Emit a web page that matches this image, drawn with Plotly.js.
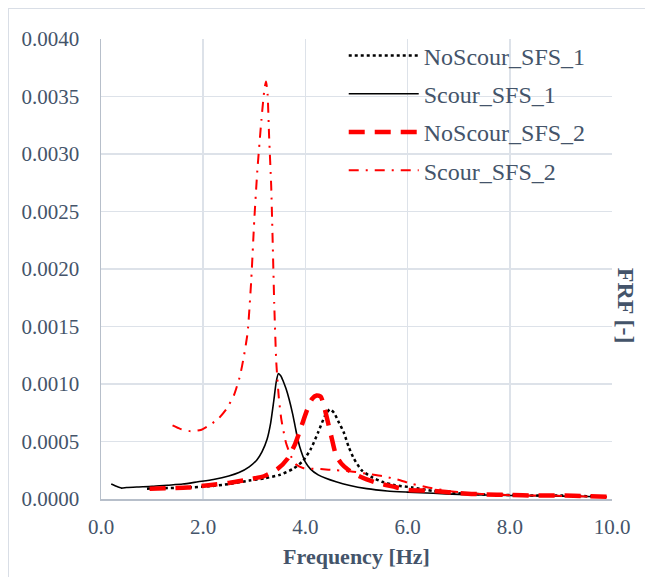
<!DOCTYPE html>
<html>
<head>
<meta charset="utf-8">
<script src="https://cdn.plot.ly/plotly-3.0.1.min.js"></script>
<style>
  html, body { margin: 0; padding: 0; background: #fff; overflow: hidden; }
  #frame { position: absolute; left: 8px; top: 8px; width: 700px; height: 700px; border: 1.5px solid #d9dee6; box-sizing: border-box; }
  #chart { position: absolute; left: 0; top: 0; width: 645px; height: 577px; }
</style>
</head>
<body>
<div id="frame"></div>
<div id="chart"></div>
<script>
// Series names
const seriesNames = ["NoScour_SFS_1", "Scour_SFS_1", "NoScour_SFS_2", "Scour_SFS_2"];

// NoScour_SFS_1 (black dotted)
const noScour1X = [0.9, 1.3, 1.7, 2.1, 2.5, 2.9, 3.2, 3.5, 3.75, 3.95, 4.1, 4.25, 4.38, 4.48, 4.56, 4.65, 4.75, 4.85, 4.95, 5.1, 5.3, 5.5, 5.75, 6.1, 6.5, 7.0, 7.5, 8.0, 8.5, 9.0, 9.5, 9.9];
const noScour1Y = [0.00009, 0.000095, 0.0001, 0.00011, 0.00013, 0.00016, 0.00018, 0.00021, 0.00026, 0.00033, 0.00043, 0.00058, 0.00072, 0.00078, 0.00075, 0.00067, 0.00058, 0.00045, 0.00035, 0.00025, 0.00019, 0.00015, 0.00012, 0.0001, 0.00007, 0.00005, 0.00004, 0.000035, 0.00003, 0.00003, 0.000025, 0.00002];

// Scour_SFS_1 (black solid)
const scour1X = [0.2, 0.3, 0.4, 0.5, 0.7, 1.0, 1.3, 1.6, 1.9, 2.2, 2.5, 2.7, 2.9, 3.05, 3.15, 3.25, 3.32, 3.38, 3.43, 3.47, 3.52, 3.57, 3.62, 3.68, 3.75, 3.8, 3.85, 3.92, 4.0, 4.1, 4.25, 4.4, 4.6, 4.85, 5.2, 5.6, 6.0, 6.5, 7.0, 7.5, 8.0, 8.5, 9.0, 9.5, 9.9];
const scour1Y = [0.00013, 0.00011, 0.000095, 0.0001, 0.000105, 0.00011, 0.00012, 0.00013, 0.00015, 0.00017, 0.0002, 0.00023, 0.00028, 0.00034, 0.00041, 0.00052, 0.00066, 0.00085, 0.00102, 0.00109, 0.00107, 0.00102, 0.00096, 0.00087, 0.00074, 0.00063, 0.00052, 0.00041, 0.00032, 0.00026, 0.00021, 0.00018, 0.00015, 0.00012, 0.00009, 0.00007, 0.00006, 0.00005, 0.00004, 0.000035, 0.00003, 0.000028, 0.000025, 0.000022, 0.00002];

// NoScour_SFS_2 (red thick dashed)
const noScour2X = [0.95, 1.3, 1.7, 2.1, 2.5, 2.9, 3.2, 3.45, 3.65, 3.8, 3.92, 4.03, 4.13, 4.22, 4.3, 4.38, 4.45, 4.52, 4.6, 4.7, 4.85, 5.0, 5.2, 5.4, 5.7, 6.0, 6.5, 7.0, 7.5, 8.0, 8.5, 9.0, 9.5, 9.9];
const noScour2Y = [0.00009, 0.000095, 0.0001, 0.00012, 0.00014, 0.00017, 0.0002, 0.00026, 0.00035, 0.00048, 0.00063, 0.00077, 0.00087, 0.0009, 0.00089, 0.00078, 0.00065, 0.00052, 0.00038, 0.00031, 0.00025, 0.00021, 0.00017, 0.00014, 0.00011, 0.00008, 0.00007, 0.00005, 0.00004, 0.000035, 0.00003, 0.00003, 0.000025, 0.00002];

// Scour_SFS_2 (red dash-dot)
const scour2X = [1.4, 1.55, 1.75, 1.95, 2.15, 2.3, 2.45, 2.6, 2.72, 2.8, 2.87, 2.94, 3.0, 3.06, 3.14, 3.2, 3.23, 3.26, 3.29, 3.33, 3.36, 3.39, 3.43, 3.48, 3.53, 3.62, 3.72, 3.82, 3.95, 4.3, 4.6, 4.9, 5.2, 5.5, 5.8, 6.1, 6.4, 6.8, 7.2, 7.7, 8.2, 8.7, 9.2, 9.9];
const scour2Y = [0.00064, 0.00061, 0.00059, 0.0006, 0.00065, 0.0007, 0.00078, 0.0009, 0.00107, 0.00125, 0.00145, 0.0019, 0.00243, 0.00286, 0.0033, 0.00357, 0.00363, 0.00352, 0.00315, 0.00273, 0.00223, 0.0017, 0.00119, 0.00088, 0.00069, 0.00049, 0.00037, 0.0003, 0.00027, 0.00026, 0.00025, 0.00024, 0.00022, 0.0002, 0.00017, 0.00013, 0.0001, 0.00007, 0.00005, 0.00004, 0.00003, 0.00003, 0.000025, 0.00002];

const xTickVals = [0, 2, 4, 6, 8, 10];
const yTickVals = [0, 0.0005, 0.001, 0.0015, 0.002, 0.0025, 0.003, 0.0035, 0.004];

const textColor = "#44546a";
const serif = "'Liberation Serif', serif";

const traces = [
  { x: noScour1X, y: noScour1Y, name: seriesNames[0], legendgroup: "a", type: "scatter", mode: "lines",
    line: { color: "#000000", width: 2.5, dash: "dot", shape: "spline", smoothing: 0.6 } },
  { x: scour1X, y: scour1Y, name: seriesNames[1], legendgroup: "b", type: "scatter", mode: "lines",
    line: { color: "#000000", width: 1.6, shape: "spline", smoothing: 0.6 } },
  { x: noScour2X, y: noScour2Y, name: seriesNames[2], legendgroup: "c", type: "scatter", mode: "lines",
    line: { color: "#ff0000", width: 4.5, dash: "16px,10px", shape: "spline", smoothing: 0.6 } },
  { x: scour2X, y: scour2Y, name: seriesNames[3], legendgroup: "d", type: "scatter", mode: "lines",
    line: { color: "#ff0000", width: 2, dash: "10px,7px,2px,7px", shape: "spline", smoothing: 0.5 } }
];

const layout = {
  width: 645, height: 577,
  paper_bgcolor: "rgba(0,0,0,0)", plot_bgcolor: "#ffffff",
  margin: { l: 101, r: 33, t: 39, b: 78 },
  font: { family: serif, color: textColor, size: 20 },
  showlegend: true,
  legend: {
    x: 0.475, y: 1.012, xanchor: "left", yanchor: "top",
    bgcolor: "rgba(0,0,0,0)", font: { family: serif, size: 24, color: textColor },
    tracegroupgap: 4, itemwidth: 70
  },
  xaxis: {
    range: [0, 10], tickvals: xTickVals, tickformat: ".1f",
    showgrid: true, gridcolor: "#dde2e9", gridwidth: 1.5,
    showline: true, linecolor: "#b7bfca", linewidth: 1.5,
    zeroline: false, ticks: "", ticklabelstandoff: 8,
    tickfont: { family: serif, size: 21, color: textColor },
    title: { text: "<b>Frequency [Hz]</b>", font: { family: serif, size: 22, color: textColor }, standoff: 11 }
  },
  yaxis: {
    range: [0, 0.004], tickvals: yTickVals, tickformat: ".4f",
    showgrid: true, gridcolor: "#dde2e9", gridwidth: 1.5,
    showline: true, linecolor: "#b7bfca", linewidth: 1.5,
    zeroline: false, ticks: "", ticklabelstandoff: 16,
    tickfont: { family: serif, size: 21, color: textColor }
  },
  annotations: [
    { text: "<b>FRF [-]</b>", xref: "paper", yref: "paper", x: 1.0, y: 0.42, xshift: 14,
      xanchor: "center", yanchor: "middle", textangle: 90, showarrow: false,
      font: { family: serif, size: 24, color: textColor } }
  ]
};

Plotly.newPlot("chart", traces, layout, { displayModeBar: false, staticPlot: true });
</script>
</body>
</html>
